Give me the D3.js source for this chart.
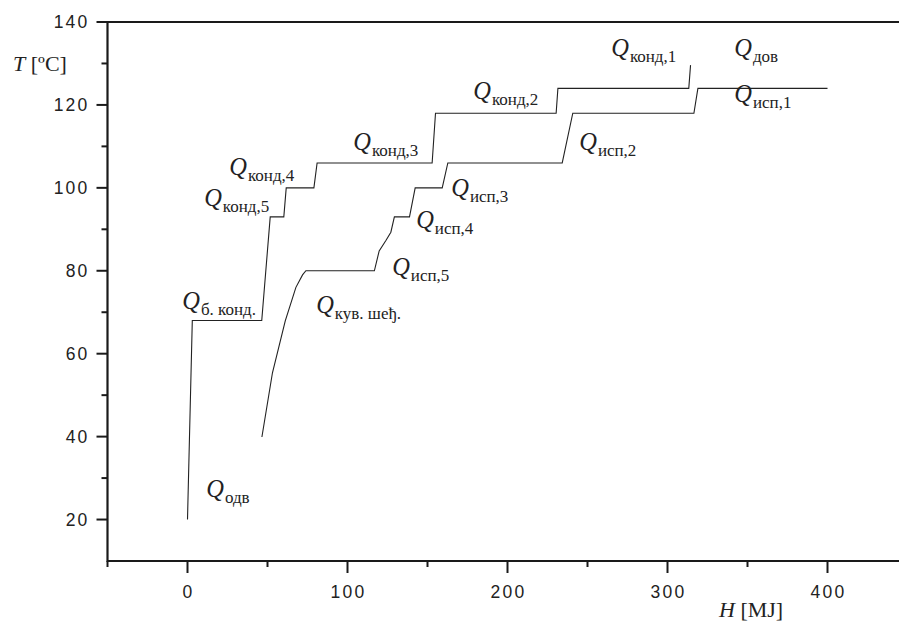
<!DOCTYPE html>
<html><head><meta charset="utf-8">
<script src="https://cdn.jsdelivr.net/npm/d3@7"></script>
<style>
body{margin:0;background:#fff;}
svg{display:block;}
.tick-label{font-family:"Liberation Sans",Arial,sans-serif;font-size:17.5px;letter-spacing:2.2px;fill:#222;}
.lbl{font-family:"Liberation Serif","Times New Roman",serif;fill:#222;}
</style></head>
<body>
<svg id="chart" width="899" height="623"></svg>
<script>
// Hot (condensing) composite curve
const hotH = [0, 3, 46.4, 51.7, 60.2, 61.7, 79, 81, 152.9, 155, 230.4, 231.5, 313.3, 314.4];
const hotT = [20, 68, 68, 93, 93, 100, 100, 106, 106, 118, 118, 124, 124, 129.6];
// Cold (evaporating) composite curve
const coldH = [46.5, 53.1, 61.1, 67.75, 71.9, 74.0, 116.8, 119.8, 124, 127.1, 129.3, 138.75, 142.3, 159.2, 162.7, 234.2, 240.8, 316.5, 319, 400];
const coldT = [39.9, 55.4, 67.9, 76.0, 79.0, 80, 80, 84.8, 87.3, 89.3, 93, 93, 100, 100, 106, 106, 118, 118, 124, 124];
// Tick values
const xMajorTicks = [0, 100, 200, 300, 400];
const xMinorTicks = [-50, 50, 150, 250, 350];
const yMajorTicks = [20, 40, 60, 80, 100, 120, 140];
const yMinorTicks = [30, 50, 70, 90, 110, 130];
// Annotation labels: subscript text and anchor in data coordinates (H, T)
const labelSubs = ["конд,1", "дов", "исп,1", "конд,2", "исп,2", "исп,3", "исп,4", "конд,3", "конд,4", "конд,5", "б. конд.", "кув. шеђ.", "исп,5", "одв"];
const labelH = [264.8, 341.7, 341.7, 178.6, 244.8, 164.8, 142.9, 103.6, 26.1, 10.4, -3.3, 80.4, 127.9, 11.7];
const labelT = [131.9, 131.9, 120.6, 121.4, 109.1, 98.0, 90.3, 109.1, 103.0, 95.7, 70.8, 69.9, 79.0, 25.4];

const svg = d3.select("#chart");
const x = d3.scaleLinear().domain([-50, 450]).range([107.5, 907.5]);
const y = d3.scaleLinear().domain([10, 140]).range([561, 22]);

// frame / axes lines
const axisColor = "#1a1a1a";
svg.append("line").attr("x1", x(-50)).attr("x2", 899).attr("y1", y(140)).attr("y2", y(140))
  .attr("stroke", axisColor).attr("stroke-width", 2);
svg.append("line").attr("x1", x(-50)).attr("x2", 899).attr("y1", y(10)).attr("y2", y(10))
  .attr("stroke", axisColor).attr("stroke-width", 2);
svg.append("line").attr("x1", x(-50)).attr("x2", x(-50)).attr("y1", y(140)-1).attr("y2", y(10)+1)
  .attr("stroke", axisColor).attr("stroke-width", 2.2);

// y ticks
svg.selectAll(".ymaj").data(yMajorTicks).enter().append("line")
  .attr("x1", x(-50)-11).attr("x2", x(-50)).attr("y1", d => y(d)).attr("y2", d => y(d))
  .attr("stroke", axisColor).attr("stroke-width", 2);
svg.selectAll(".ymin").data(yMinorTicks).enter().append("line")
  .attr("x1", x(-50)-6).attr("x2", x(-50)).attr("y1", d => y(d)).attr("y2", d => y(d))
  .attr("stroke", axisColor).attr("stroke-width", 2);
svg.selectAll(".ylab").data(yMajorTicks).enter().append("text")
  .attr("class", "tick-label").attr("text-anchor", "end")
  .attr("x", 89.5).attr("y", d => y(d) + 6.3).text(d => d);

// x ticks
svg.selectAll(".xmaj").data(xMajorTicks).enter().append("line")
  .attr("x1", d => x(d)).attr("x2", d => x(d)).attr("y1", y(10)).attr("y2", y(10)+12)
  .attr("stroke", axisColor).attr("stroke-width", 2);
svg.selectAll(".xmin").data(xMinorTicks).enter().append("line")
  .attr("x1", d => x(d)).attr("x2", d => x(d)).attr("y1", y(10)).attr("y2", y(10)+6)
  .attr("stroke", axisColor).attr("stroke-width", 2);
svg.selectAll(".xlab").data(xMajorTicks).enter().append("text")
  .attr("class", "tick-label").attr("text-anchor", "middle")
  .attr("x", d => x(d) + 1).attr("y", 597.5).text(d => d);

// curves
const line = d3.line().x(d => x(d[0])).y(d => y(d[1]));
const hot = hotH.map((h, i) => [h, hotT[i]]);
const cold = coldH.map((h, i) => [h, coldT[i]]);
svg.append("path").attr("d", line(hot)).attr("fill", "none").attr("stroke", "#222").attr("stroke-width", 1.1);
svg.append("path").attr("d", line(cold)).attr("fill", "none").attr("stroke", "#222").attr("stroke-width", 1.1);

// annotation labels
labelSubs.forEach((s, i) => {
  const t = svg.append("text").attr("class", "lbl")
    .attr("x", x(labelH[i])).attr("y", y(labelT[i]));
  t.append("tspan").attr("font-style", "italic").attr("font-size", 24.5).text("Q");
  t.append("tspan").attr("font-size", 17).attr("dy", 6).attr("dx", 1).text(s);
});

// axis titles
const ty = svg.append("text").attr("class", "lbl").attr("x", 13).attr("y", 71).attr("font-size", 22);
ty.append("tspan").attr("font-style", "italic").text("T");
ty.append("tspan").text(" [ºC]");
const tx = svg.append("text").attr("class", "lbl").attr("x", 719).attr("y", 617).attr("font-size", 22);
tx.append("tspan").attr("font-style", "italic").text("H");
tx.append("tspan").text(" [MJ]");
</script>
</body></html>
